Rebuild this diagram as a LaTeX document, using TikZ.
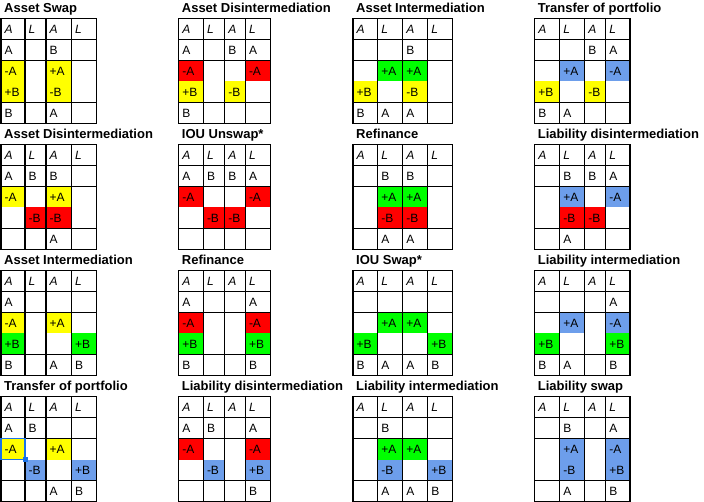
\documentclass[tikz,border=0pt]{standalone}
\usepackage{fontspec}
\setmainfont{Liberation Sans}
\usepackage{xcolor}
\usetikzlibrary{backgrounds}
\pgfdeclarelayer{front}
\pgfsetlayers{main,front}

\definecolor{cellyellow}{RGB}{255,255,0}
\definecolor{cellred}{RGB}{255,0,0}
\definecolor{cellgreen}{RGB}{0,255,0}
\definecolor{cellblue}{RGB}{109,158,235}
\definecolor{selblue}{RGB}{26,115,232}

% one balance sheet: name, five column lines, top, title
\newcommand{\bspanel}[8]{%
  \def\bsName{#1}\def\bsA{#2}\def\bsB{#3}\def\bsC{#4}\def\bsD{#5}\def\bsE{#6}\def\bsTop{#7}%
  \node[ttl] (#1-t) at (#2+3,#7-5.6) {#8};
  \node[hdr] (#1-01) at (#2+3.5,#7+15.4) {A};
  \node[hdr] (#1-02) at (#3+3.5,#7+15.4) {L};
  \node[hdr] (#1-03) at (#4+3.5,#7+15.4) {A};
  \node[hdr] (#1-04) at (#5+3.5,#7+15.4) {L};
  \begin{pgfonlayer}{front}
    \draw[grid] (#2,#7) rectangle (#6,#7+105);
    \foreach \gx in {#3,#4,#5} \draw[grid] (\gx,#7) -- (\gx,#7+105);
    \foreach \gy in {21,42,84} \draw[grid] (#2,#7+\gy) -- (#6,#7+\gy);
  \end{pgfonlayer}}

% one entry: [fill] column, row, text
\newcommand{\bsentry}[4][white]{%
  \edef\bsL{\ifcase#2\or\bsA\or\bsB\or\bsC\or\bsD\fi}%
  \edef\bsR{\ifcase#2\or\bsB\or\bsC\or\bsD\or\bsE\fi}%
  \pgfmathsetmacro\bsY{\bsTop+#3*21}%
  \fill[#1] (\bsL,\bsY) rectangle (\bsR,\bsY+21);
  \node[cell] (\bsName-#3#2) at (\bsL+3.5,\bsY+15.4) {#4};}

\begin{document}
\begin{tikzpicture}[
    x=1pt, y=-1pt,
    ttl/.style={anchor=base west, inner sep=0pt, font=\bfseries\fontsize{13}{15}\selectfont},
    hdr/.style={anchor=base west, inner sep=0pt, font=\itshape\fontsize{12}{14}\selectfont},
    cell/.style={anchor=base west, inner sep=0pt, font=\fontsize{12}{14}\selectfont},
    grid/.style={line width=1.4pt, draw=black}
  ]
  \useasboundingbox[fill=white] (0,0) rectangle (704,502);

  % first row of panels
  \bspanel{as}{1}{25}{46}{71.3}{96.7}{18.5}{Asset Swap}
  \bsentry{1}{1}{A} \bsentry{3}{1}{B}
  \bsentry[cellyellow]{1}{2}{-A} \bsentry[cellyellow]{3}{2}{+A}
  \bsentry[cellyellow]{1}{3}{+B} \bsentry[cellyellow]{3}{3}{-B}
  \bsentry{1}{4}{B} \bsentry{3}{4}{A}

  \bspanel{adA}{178.7}{203.3}{224.7}{245.3}{270.7}{18.5}{Asset Disintermediation}
  \bsentry{1}{1}{A} \bsentry{3}{1}{B} \bsentry{4}{1}{A}
  \bsentry[cellred]{1}{2}{-A} \bsentry[cellred]{4}{2}{-A}
  \bsentry[cellyellow]{1}{3}{+B} \bsentry[cellyellow]{3}{3}{-B}
  \bsentry{1}{4}{B}

  \bspanel{aiA}{353}{377.7}{402.7}{427.7}{452.3}{18.5}{Asset Intermediation}
  \bsentry{3}{1}{B}
  \bsentry[cellgreen]{2}{2}{+A} \bsentry[cellgreen]{3}{2}{+A}
  \bsentry[cellyellow]{1}{3}{+B} \bsentry[cellyellow]{3}{3}{-B}
  \bsentry{1}{4}{B} \bsentry{2}{4}{A} \bsentry{3}{4}{A}

  \bspanel{tpA}{534.7}{559.7}{584.7}{605.7}{630}{18.5}{Transfer of portfolio}
  \bsentry{3}{1}{B} \bsentry{4}{1}{A}
  \bsentry[cellblue]{2}{2}{+A} \bsentry[cellblue]{4}{2}{-A}
  \bsentry[cellyellow]{1}{3}{+B} \bsentry[cellyellow]{3}{3}{-B}
  \bsentry{1}{4}{B} \bsentry{2}{4}{A}

  % second row of panels
  \bspanel{adB}{1}{25}{46}{71.3}{96.7}{144.5}{Asset Disintermediation}
  \bsentry{1}{1}{A} \bsentry{2}{1}{B} \bsentry{3}{1}{B}
  \bsentry[cellyellow]{1}{2}{-A} \bsentry[cellyellow]{3}{2}{+A}
  \bsentry[cellred]{2}{3}{-B} \bsentry[cellred]{3}{3}{-B}
  \bsentry{3}{4}{A}

  \bspanel{iu}{178.7}{203.3}{224.7}{245.3}{270.7}{144.5}{IOU Unswap*}
  \bsentry{1}{1}{A} \bsentry{2}{1}{B} \bsentry{3}{1}{B} \bsentry{4}{1}{A}
  \bsentry[cellred]{1}{2}{-A} \bsentry[cellred]{4}{2}{-A}
  \bsentry[cellred]{2}{3}{-B} \bsentry[cellred]{3}{3}{-B}

  \bspanel{rfA}{353}{377.7}{402.7}{427.7}{452.3}{144.5}{Refinance}
  \bsentry{2}{1}{B} \bsentry{3}{1}{B}
  \bsentry[cellgreen]{2}{2}{+A} \bsentry[cellgreen]{3}{2}{+A}
  \bsentry[cellred]{2}{3}{-B} \bsentry[cellred]{3}{3}{-B}
  \bsentry{2}{4}{A} \bsentry{3}{4}{A}

  \bspanel{ldA}{534.7}{559.7}{584.7}{605.7}{630}{144.5}{Liability disintermediation}
  \bsentry{2}{1}{B} \bsentry{3}{1}{B} \bsentry{4}{1}{A}
  \bsentry[cellblue]{2}{2}{+A} \bsentry[cellblue]{4}{2}{-A}
  \bsentry[cellred]{2}{3}{-B} \bsentry[cellred]{3}{3}{-B}
  \bsentry{2}{4}{A}

  % third row of panels
  \bspanel{aiB}{1}{25}{46}{71.3}{96.7}{270.5}{Asset Intermediation}
  \bsentry{1}{1}{A}
  \bsentry[cellyellow]{1}{2}{-A} \bsentry[cellyellow]{3}{2}{+A}
  \bsentry[cellgreen]{1}{3}{+B} \bsentry[cellgreen]{4}{3}{+B}
  \bsentry{1}{4}{B} \bsentry{3}{4}{A} \bsentry{4}{4}{B}

  \bspanel{rfB}{178.7}{203.3}{224.7}{245.3}{270.7}{270.5}{Refinance}
  \bsentry{1}{1}{A} \bsentry{4}{1}{A}
  \bsentry[cellred]{1}{2}{-A} \bsentry[cellred]{4}{2}{-A}
  \bsentry[cellgreen]{1}{3}{+B} \bsentry[cellgreen]{4}{3}{+B}
  \bsentry{1}{4}{B} \bsentry{4}{4}{B}

  \bspanel{is}{353}{377.7}{402.7}{427.7}{452.3}{270.5}{IOU Swap*}
  \bsentry[cellgreen]{2}{2}{+A} \bsentry[cellgreen]{3}{2}{+A}
  \bsentry[cellgreen]{1}{3}{+B} \bsentry[cellgreen]{4}{3}{+B}
  \bsentry{1}{4}{B} \bsentry{2}{4}{A} \bsentry{3}{4}{A} \bsentry{4}{4}{B}

  \bspanel{liA}{534.7}{559.7}{584.7}{605.7}{630}{270.5}{Liability intermediation}
  \bsentry{4}{1}{A}
  \bsentry[cellblue]{2}{2}{+A} \bsentry[cellblue]{4}{2}{-A}
  \bsentry[cellgreen]{1}{3}{+B} \bsentry[cellgreen]{4}{3}{+B}
  \bsentry{1}{4}{B} \bsentry{2}{4}{A} \bsentry{4}{4}{B}

  % fourth row of panels
  \bspanel{tpB}{1}{25}{46}{71.3}{96.7}{396.5}{Transfer of portfolio}
  \bsentry{1}{1}{A} \bsentry{2}{1}{B}
  \bsentry[cellyellow]{1}{2}{-A} \bsentry[cellyellow]{3}{2}{+A}
  \bsentry[cellblue]{2}{3}{-B} \bsentry[cellblue]{4}{3}{+B}
  \bsentry{3}{4}{A} \bsentry{4}{4}{B}
  % selected cell
  \begin{pgfonlayer}{front}
    \draw[selblue, line width=1.4pt] (1,438.5) rectangle (25,459.5);
    \fill[selblue] (22.5,457) rectangle (27.5,462);
  \end{pgfonlayer}

  \bspanel{ldB}{178.7}{203.3}{224.7}{245.3}{270.7}{396.5}{Liability disintermediation}
  \bsentry{1}{1}{A} \bsentry{2}{1}{B} \bsentry{4}{1}{A}
  \bsentry[cellred]{1}{2}{-A} \bsentry[cellred]{4}{2}{-A}
  \bsentry[cellblue]{2}{3}{-B} \bsentry[cellblue]{4}{3}{+B}
  \bsentry{4}{4}{B}

  \bspanel{liB}{353}{377.7}{402.7}{427.7}{452.3}{396.5}{Liability intermediation}
  \bsentry{2}{1}{B}
  \bsentry[cellgreen]{2}{2}{+A} \bsentry[cellgreen]{3}{2}{+A}
  \bsentry[cellblue]{2}{3}{-B} \bsentry[cellblue]{4}{3}{+B}
  \bsentry{2}{4}{A} \bsentry{3}{4}{A} \bsentry{4}{4}{B}

  \bspanel{ls}{534.7}{559.7}{584.7}{605.7}{630}{396.5}{Liability swap}
  \bsentry{2}{1}{B} \bsentry{4}{1}{A}
  \bsentry[cellblue]{2}{2}{+A} \bsentry[cellblue]{4}{2}{-A}
  \bsentry[cellblue]{2}{3}{-B} \bsentry[cellblue]{4}{3}{+B}
  \bsentry{2}{4}{A} \bsentry{4}{4}{B}
\end{tikzpicture}
\end{document}
